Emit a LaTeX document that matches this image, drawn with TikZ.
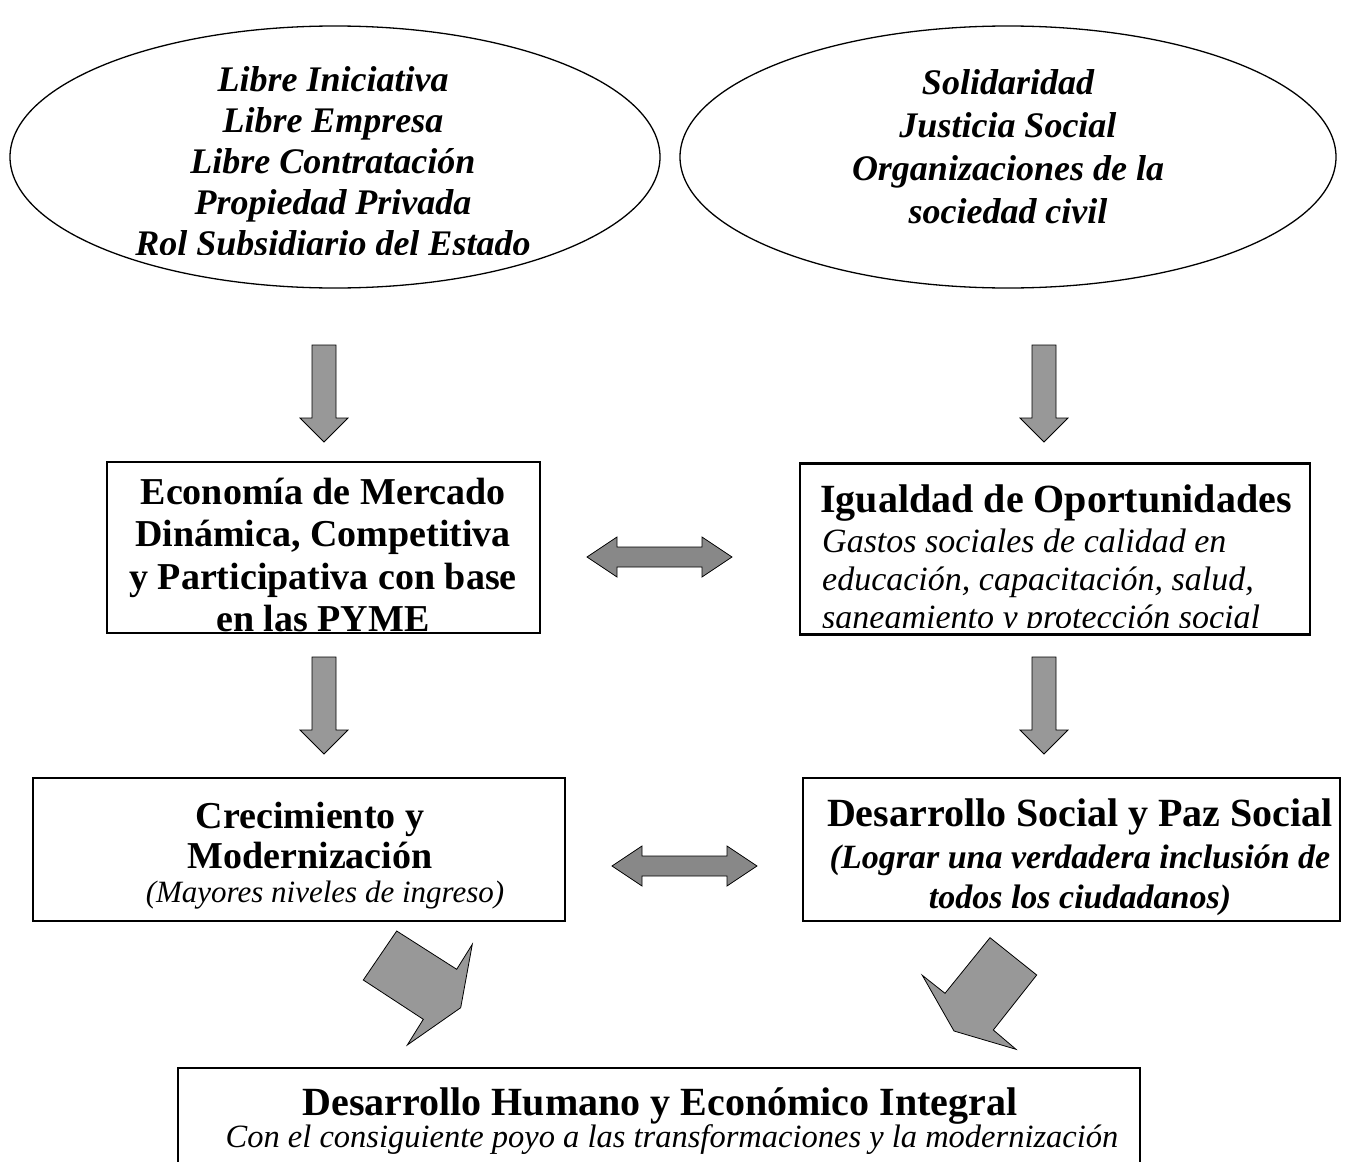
\documentclass[tikz,border=0pt]{standalone}
\usepackage{fontspec}
\setmainfont{Liberation Serif}
\usetikzlibrary{shapes.geometric}

\definecolor{arrowgray}{RGB}{152,152,152}
\definecolor{linkgray}{RGB}{136,136,136}

\tikzset{
  frame/.style={draw,line width=2.2pt,inner sep=0pt},
  oval/.style={ellipse,draw,line width=1.3pt,inner sep=0pt},
  blockarrow/.style={draw,fill=arrowgray,line width=0.8pt,line join=miter},
  linkarrow/.style={blockarrow,fill=linkgray},
  ovaltext/.style={font=\fontsize{36}{41}\selectfont\bfseries\itshape,align=center,inner sep=0pt,anchor=base},
  headtext/.style={font=\fontsize{40}{44}\selectfont\bfseries,align=center,inner sep=0pt,anchor=base},
  boldtext/.style={font=\fontsize{38}{42.5}\selectfont\bfseries,align=center,inner sep=0pt,anchor=base},
  ittext/.style={font=\fontsize{34}{38}\selectfont\itshape,align=center,inner sep=0pt,anchor=base}
}

\begin{document}
\begin{tikzpicture}[x=1pt,y=-1pt]
\useasboundingbox (0,0) rectangle (1361,1162);
\clip (0,0) rectangle (1361,1162);

\node [oval,minimum width=650,minimum height=262] (libre) at (335,157) {};
\node [oval,minimum width=656,minimum height=262] (soli) at (1008,157) {};
\begin{scope}
  \clip (0,0) rectangle (1361,254);
  \node [ovaltext] (libret) at (333,255)
    {Libre Iniciativa\\Libre Empresa\\Libre Contratación\\Propiedad Privada\\Rol Subsidiario del Estado};
\end{scope}
\node [ovaltext,font=\fontsize{36}{43}\selectfont\bfseries\itshape] (solit) at (1008,223)
  {Solidaridad\\Justicia Social\\Organizaciones de la\\sociedad civil};

\node [frame,minimum width=433,minimum height=171] (eco) at (323.5,547.5) {};
\node [frame,minimum width=510,minimum height=171] (igual) at (1055,549) {};
\node [frame,minimum width=532,minimum height=143] (crec) at (299,849.5) {};
\node [frame,minimum width=537,minimum height=143] (dsoc) at (1071.5,849.5) {};
\node [frame,minimum width=962,minimum height=200] (dhum) at (659,1168) {};

\begin{scope}
  \clip (eco.north west) rectangle (eco.south east);
  \node [boldtext] (ecot) at (323,631.5)
    {Economía de Mercado\\Dinámica, Competitiva\\y Participativa con base\\en las PYME};
\end{scope}
\node [headtext] (igualt) at (1056,512) {Igualdad de Oportunidades};
\begin{scope}
  \clip (igual.north west) rectangle ([yshift=8pt]igual.south east);
  \node [ittext,align=left,anchor=base west] (iguals) at (822,628)
    {Gastos sociales de calidad en\\educación, capacitación, salud,\\saneamiento y protección social};
\end{scope}

\node [boldtext,font=\fontsize{38}{40}\selectfont\bfseries] (crect) at (310,868) {Crecimiento y\\Modernización};
\node [ittext,font=\fontsize{31}{36}\selectfont\itshape] (crecs) at (325,902) {(Mayores niveles de ingreso)};
\node [headtext] (dsoct) at (1080,826) {Desarrollo Social y Paz Social};
\node [ittext,font=\fontsize{34}{40}\selectfont\bfseries\itshape] (dsocs) at (1080,908)
  {(Lograr una verdadera inclusión de\\todos los ciudadanos)};
\node [headtext] (dhumt) at (660,1115) {Desarrollo Humano y Económico Integral};
\node [ittext,font=\fontsize{32.5}{37}\selectfont\itshape] (dhums) at (672,1147) {Con el consiguiente poyo a las transformaciones y la modernización};

\coordinate (d1) at (324,345);
\coordinate (d2) at (1044,345);
\coordinate (d3) at (324,657);
\coordinate (d4) at (1044,657);
\foreach \p in {d1,d2,d3,d4}
  \draw [blockarrow] (\p) ++(-12,0) -- ++(24,0) -- ++(0,73) -- ++(12,0) -- ++(-24,24) -- ++(-24,-24) -- ++(12,0) -- cycle;

\coordinate (h1) at (587,557);
\coordinate (h2) at (612,866);
\foreach \p in {h1,h2}
  \draw [linkarrow] (\p) -- ++(30,-20) -- ++(0,10) -- ++(85,0) -- ++(0,-10) -- ++(30,20) -- ++(-30,20) -- ++(0,-10) -- ++(-85,0) -- ++(0,10) -- cycle;

\draw [blockarrow] (396.7,931) -- (456.7,969.3) -- (472.3,944.3) -- (460.7,1007.7) -- (407.3,1045) -- (423.3,1019.3) -- (363.3,980) -- cycle;
\draw [blockarrow] (990,937.7) -- (1036.7,975) -- (993.3,1030) -- (1016,1049.3) -- (954,1031) -- (922.3,975.3) -- (945,993.3) -- cycle;
\end{tikzpicture}
\end{document}
